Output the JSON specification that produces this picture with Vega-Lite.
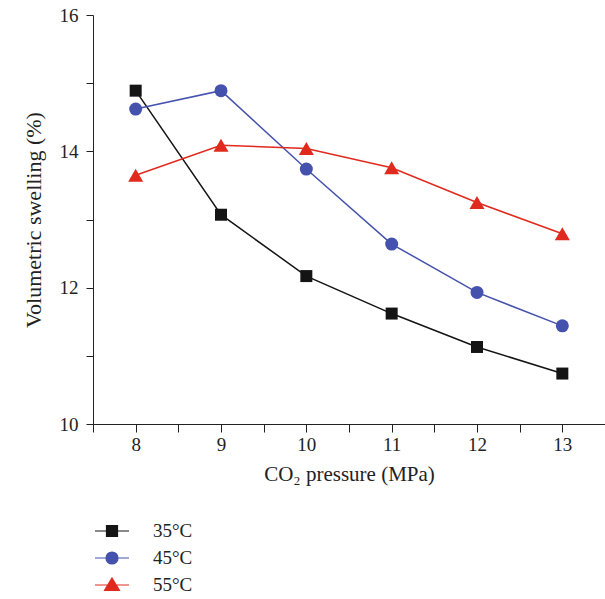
{
  "$schema": "https://vega.github.io/schema/vega-lite/v6.json",
  "width": 512,
  "height": 409,
  "autosize": {"type": "none"},
  "padding": {"left": 93, "top": 15, "right": 0, "bottom": 175},
  "background": "white",
  "config": {
    "view": {"stroke": null},
    "font": "Liberation Serif",
    "axis": {"grid": false, "domainColor": "#222", "tickColor": "#222", "labelColor": "#222", "titleColor": "#222", "labelFont": "Liberation Serif", "titleFont": "Liberation Serif", "titleFontWeight": "normal"}
  },
  "data": {
    "values": [
      {"p": 8, "v": 14.89, "t": "35°C"},
      {"p": 9, "v": 13.07, "t": "35°C"},
      {"p": 10, "v": 12.17, "t": "35°C"},
      {"p": 11, "v": 11.62, "t": "35°C"},
      {"p": 12, "v": 11.13, "t": "35°C"},
      {"p": 13, "v": 10.74, "t": "35°C"},
      {"p": 8, "v": 14.62, "t": "45°C"},
      {"p": 9, "v": 14.89, "t": "45°C"},
      {"p": 10, "v": 13.74, "t": "45°C"},
      {"p": 11, "v": 12.64, "t": "45°C"},
      {"p": 12, "v": 11.93, "t": "45°C"},
      {"p": 13, "v": 11.44, "t": "45°C"},
      {"p": 8, "v": 13.65, "t": "55°C"},
      {"p": 9, "v": 14.09, "t": "55°C"},
      {"p": 10, "v": 14.04, "t": "55°C"},
      {"p": 11, "v": 13.76, "t": "55°C"},
      {"p": 12, "v": 13.25, "t": "55°C"},
      {"p": 13, "v": 12.79, "t": "55°C"}
    ]
  },
  "encoding": {
    "x": {
      "field": "p", "type": "quantitative",
      "scale": {"domain": [7.5, 13.5], "nice": false, "zero": false},
      "axis": {
        "title": "CO₂ pressure (MPa)",
        "values": [7.5, 8, 8.5, 9, 9.5, 10, 10.5, 11, 11.5, 12, 12.5, 13, 13.5],
        "labelExpr": "datum.value % 1 == 0 ? format(datum.value, 'd') : ''",
        "labelFontSize": 19, "titleFontSize": 21,
        "tickSize": 8, "labelPadding": 3, "titlePadding": 9,
        "encode": {"ticks": {"y2": {"condition": {"test": "datum.value % 1 == 0", "value": 8}, "value": 4}}}
      }
    },
    "y": {
      "field": "v", "type": "quantitative",
      "scale": {"domain": [10, 16], "nice": false, "zero": false},
      "axis": {
        "title": "Volumetric swelling (%)",
        "values": [10, 11, 12, 13, 14, 15, 16],
        "labelExpr": "datum.value % 2 == 0 ? datum.label : ''",
        "labelFontSize": 19, "titleFontSize": 22,
        "tickSize": 7, "labelPadding": 8, "titlePadding": 14,
        "encode": {"ticks": {"x2": {"condition": {"test": "datum.value % 2 == 0", "value": -7}, "value": -4}}}
      }
    },
    "color": {
      "field": "t", "type": "nominal",
      "scale": {"domain": ["35°C", "45°C", "55°C"], "range": ["#141414", "#4451ad", "#e02a1e"]},
      "legend": {
        "title": null, "orient": "none", "legendX": 8, "legendY": 505,
        "labelFontSize": 19, "labelFont": "Liberation Serif", "labelColor": "#222",
        "rowPadding": 6, "labelOffset": 30, "symbolSize": 400, "symbolStrokeWidth": 1.2,
        "encode": {"symbols": {"update": {
          "shape": {"signal": "datum.value == '35°C' ? 'M-1.7,0H1.7M-0.55,-0.55H0.55V0.55H-0.55Z' : datum.value == '45°C' ? 'M-1.7,0H1.7M-0.6,0A0.6,0.6 0 1,1 0.6,0A0.6,0.6 0 1,1 -0.6,0Z' : 'M-1.7,0H1.7M0,-0.7L0.75,0.55H-0.75Z'"},
          "size": {"value": 400}
        }}}
      }
    }
  },
  "layer": [
    {"mark": {"type": "line", "strokeWidth": 1.5}},
    {
      "transform": [{"filter": "datum.t == '35°C'"}],
      "mark": {"type": "point", "filled": true, "opacity": 1, "shape": "square", "size": 144}
    },
    {
      "transform": [{"filter": "datum.t == '45°C'"}],
      "mark": {"type": "point", "filled": true, "opacity": 1, "shape": "circle", "size": 169}
    },
    {
      "transform": [{"filter": "datum.t == '55°C'"}],
      "mark": {"type": "point", "filled": true, "opacity": 1, "shape": "triangle-up", "size": 225}
    }
  ]
}
